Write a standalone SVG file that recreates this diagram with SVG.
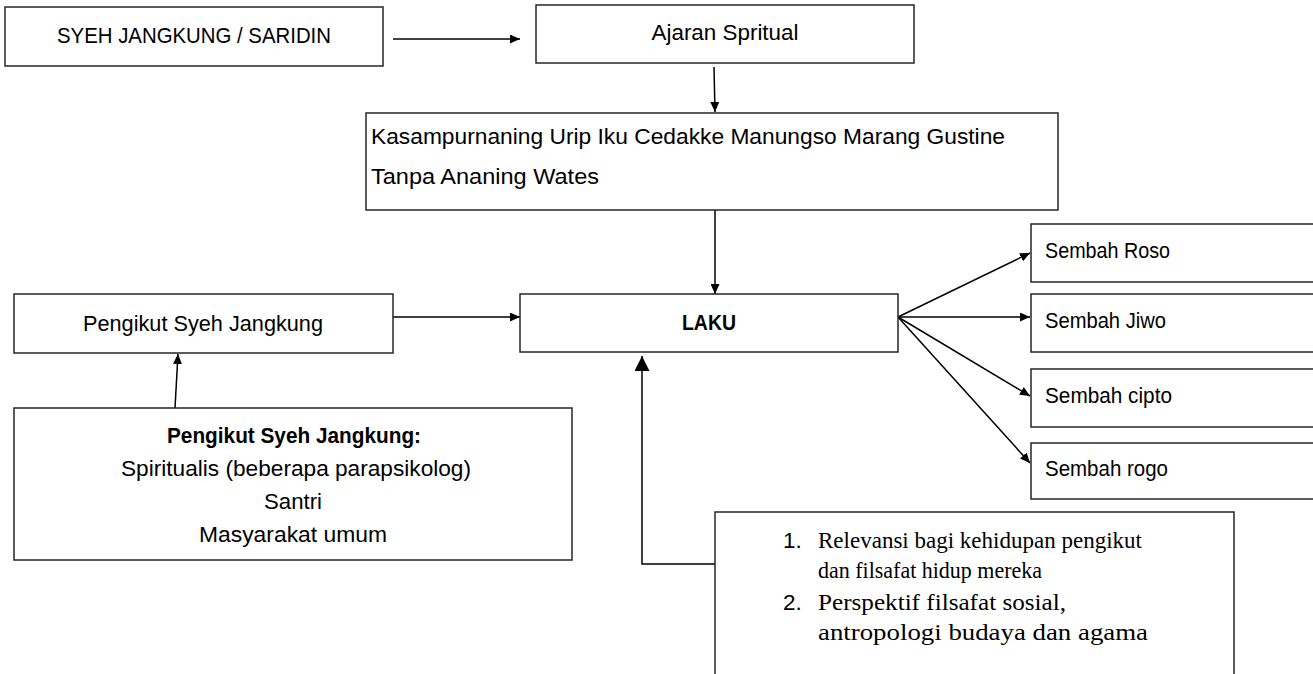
<svg xmlns="http://www.w3.org/2000/svg" width="1313" height="674" viewBox="0 0 1313 674">
<style>
.box{fill:#fff;stroke:#262626;stroke-width:1.5}
.t{font-family:"Liberation Sans","Open Sans",Arial,sans-serif;font-size:22.5px;fill:#000}
.b{font-weight:bold}
.s{font-family:"Liberation Serif","Times New Roman",serif;font-size:23px;fill:#000}
.c{fill:none;stroke:#000;stroke-width:1.5}
</style>
<defs>
<marker id="ah" markerUnits="userSpaceOnUse" markerWidth="11" markerHeight="9" refX="10" refY="4.5" orient="auto">
<path d="M0,0 L10,4.5 L0,9 z" fill="#000"/>
</marker>
<marker id="ahBig" markerUnits="userSpaceOnUse" markerWidth="16" markerHeight="16" refX="15" refY="7.5" orient="auto">
<path d="M0,0 L15,7.5 L0,15 z" fill="#000"/>
</marker>
</defs>
<rect width="1313" height="674" fill="#fff"/>
<g id="connectors">
<path class="c" d="M393,39 H520" marker-end="url(#ah)"/>
<path class="c" d="M714,67 L715,112" marker-end="url(#ah)"/>
<path class="c" d="M715,210 L715,294" marker-end="url(#ah)"/>
<path class="c" d="M393,317 H520" marker-end="url(#ah)"/>
<path class="c" d="M175,408 L178,354" marker-end="url(#ah)"/>
<path class="c" d="M715,564 H642 V356" marker-end="url(#ahBig)"/>
<path class="c" d="M898,317 L1030,253" marker-end="url(#ah)"/>
<path class="c" d="M898,317 L1030,317" marker-end="url(#ah)"/>
<path class="c" d="M898,317 L1030,396" marker-end="url(#ah)"/>
<path class="c" d="M898,317 L1030,463" marker-end="url(#ah)"/>
</g>
<g id="syeh">
<rect class="box" x="5" y="7" width="378" height="59"/>
<text class="t" x="194" y="43" text-anchor="middle" textLength="274" lengthAdjust="spacingAndGlyphs">SYEH JANGKUNG / SARIDIN</text>
</g>
<g id="ajaran">
<rect class="box" x="536" y="5" width="378" height="58"/>
<text class="t" x="725" y="40" text-anchor="middle" textLength="147" lengthAdjust="spacingAndGlyphs">Ajaran Spritual</text>
</g>
<g id="kasampurnaning">
<rect class="box" x="366" y="113" width="692" height="97"/>
<text class="t" x="371" y="144" textLength="634" lengthAdjust="spacingAndGlyphs">Kasampurnaning Urip Iku Cedakke Manungso Marang Gustine</text>
<text class="t" x="371" y="184" textLength="228" lengthAdjust="spacingAndGlyphs">Tanpa Ananing Wates</text>
</g>
<g id="laku">
<rect class="box" x="520" y="294" width="378" height="58"/>
<text class="t b" x="709" y="330" text-anchor="middle" textLength="54" lengthAdjust="spacingAndGlyphs">LAKU</text>
</g>
<g id="pengikut">
<rect class="box" x="14" y="294" width="379" height="59"/>
<text class="t" x="203" y="331" text-anchor="middle" textLength="240" lengthAdjust="spacingAndGlyphs">Pengikut Syeh Jangkung</text>
</g>
<g id="pengikut-detail">
<rect class="box" x="14" y="408" width="558" height="152"/>
<text class="t b" x="294" y="443" text-anchor="middle" textLength="254" lengthAdjust="spacingAndGlyphs">Pengikut Syeh Jangkung:</text>
<text class="t" x="296" y="476" text-anchor="middle" textLength="350" lengthAdjust="spacingAndGlyphs">Spiritualis (beberapa parapsikolog)</text>
<text class="t" x="293" y="509" text-anchor="middle" textLength="58" lengthAdjust="spacingAndGlyphs">Santri</text>
<text class="t" x="293" y="542" text-anchor="middle" textLength="188" lengthAdjust="spacingAndGlyphs">Masyarakat umum</text>
</g>
<g id="sembah-roso">
<rect class="box" x="1031" y="224" width="300" height="58"/>
<text class="t" x="1045" y="258" textLength="125" lengthAdjust="spacingAndGlyphs">Sembah Roso</text>
</g>
<g id="sembah-jiwo">
<rect class="box" x="1031" y="294" width="300" height="58"/>
<text class="t" x="1045" y="328" textLength="121" lengthAdjust="spacingAndGlyphs">Sembah Jiwo</text>
</g>
<g id="sembah-cipto">
<rect class="box" x="1031" y="369" width="300" height="58"/>
<text class="t" x="1045" y="403" textLength="127" lengthAdjust="spacingAndGlyphs">Sembah cipto</text>
</g>
<g id="sembah-rogo">
<rect class="box" x="1031" y="443" width="300" height="56"/>
<text class="t" x="1045" y="476" textLength="123" lengthAdjust="spacingAndGlyphs">Sembah rogo</text>
</g>
<g id="relevansi">
<rect class="box" x="715" y="512" width="519" height="200"/>
<text class="t" x="783" y="548">1.</text>
<text class="s" x="818" y="548" textLength="324" lengthAdjust="spacingAndGlyphs">Relevansi bagi kehidupan pengikut</text>
<text class="s" x="818" y="578" textLength="224" lengthAdjust="spacingAndGlyphs">dan filsafat hidup mereka</text>
<text class="t" x="783" y="610">2.</text>
<text class="s" x="818" y="610" textLength="248" lengthAdjust="spacingAndGlyphs">Perspektif filsafat sosial,</text>
<text class="s" x="818" y="640" textLength="330" lengthAdjust="spacingAndGlyphs">antropologi budaya dan agama</text>
</g>
</svg>
